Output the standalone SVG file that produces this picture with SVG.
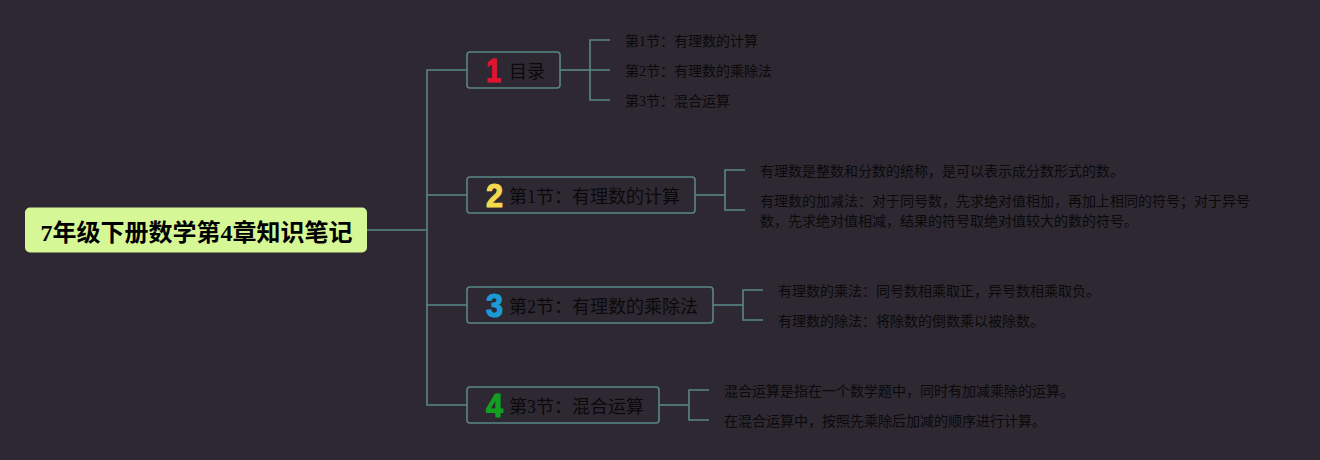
<svg xmlns="http://www.w3.org/2000/svg" width="1320" height="460" viewBox="0 0 1320 460">
<style>
text{font-family:"Liberation Serif","Noto Sans CJK SC",sans-serif;}
.bg{fill:#2d2832}
.c{fill:none;stroke:#5a8687;stroke-width:1.6}
.b{fill:#2d2832;stroke:#5a8687;stroke-width:1.6}
.t{font-size:18px;fill:#0a0a0a}
.l{font-size:14px;fill:#0a0a0a}
.n{font-family:"Liberation Sans",sans-serif;font-size:34px;font-weight:700;stroke-width:1.2;stroke-linejoin:round}
</style>
<rect class="bg" width="1320" height="460"/>
<g id="connectors">
<path class="c" d="M367 230H427"/>
<path class="c" d="M467 70H427V405H467"/>
<path class="c" d="M427 195H467M427 305H467"/>
<path class="c" d="M560 70H590"/>
<path class="c" d="M610 40H590V100H610M590 70H610"/>
<path class="c" d="M695 195H725"/>
<path class="c" d="M745 170H725V210H745"/>
<path class="c" d="M713 305H743"/>
<path class="c" d="M763 290H743V320H763"/>
<path class="c" d="M659 405H689"/>
<path class="c" d="M709 390H689V420H709"/>
</g>
<g id="root">
<rect x="25" y="207.500" width="342" height="45" rx="5" fill="#d6f796"/>
<text x="40.500" y="240.500" font-size="24" font-weight="700" fill="#000">7年级下册数学第4章知识笔记</text>
</g>
<g id="n1">
<rect class="b" x="467" y="52" width="93" height="36" rx="3"/>
<text class="n" x="486" y="82" fill="#e0142f" stroke="#e0142f" textLength="15" lengthAdjust="spacingAndGlyphs">1</text>
<text class="t" x="509" y="78">目录</text>
</g>
<g id="n2">
<rect class="b" x="467" y="177" width="228" height="36" rx="3"/>
<text class="n" x="486" y="207" fill="#f5d94e" stroke="#f5d94e" textLength="17" lengthAdjust="spacingAndGlyphs">2</text>
<text class="t" x="509" y="203">第1节：有理数的计算</text>
</g>
<g id="n3">
<rect class="b" x="467" y="287" width="246" height="36" rx="3"/>
<text class="n" x="486" y="317" fill="#1b9ad6" stroke="#1b9ad6" textLength="17" lengthAdjust="spacingAndGlyphs">3</text>
<text class="t" x="509" y="313">第2节：有理数的乘除法</text>
</g>
<g id="n4">
<rect class="b" x="467" y="387" width="192" height="36" rx="3"/>
<text class="n" x="486" y="417" fill="#11a020" stroke="#11a020" textLength="17" lengthAdjust="spacingAndGlyphs">4</text>
<text class="t" x="509" y="413">第3节：混合运算</text>
</g>
<g id="leaf1-1"><text class="l" x="625" y="46">第1节：有理数的计算</text></g>
<g id="leaf1-2"><text class="l" x="625" y="76">第2节：有理数的乘除法</text></g>
<g id="leaf1-3"><text class="l" x="625" y="106">第3节：混合运算</text></g>
<g id="leaf2-1"><text class="l" x="760" y="176">有理数是整数和分数的统称，是可以表示成分数形式的数。</text></g>
<g id="leaf2-2"><text class="l" x="760" y="206">有理数的加减法：对于同号数，先求绝对值相加，再加上相同的符号；对于异号</text><text class="l" x="760" y="226">数，先求绝对值相减，结果的符号取绝对值较大的数的符号。</text></g>
<g id="leaf3-1"><text class="l" x="778" y="296">有理数的乘法：同号数相乘取正，异号数相乘取负。</text></g>
<g id="leaf3-2"><text class="l" x="778" y="326">有理数的除法：将除数的倒数乘以被除数。</text></g>
<g id="leaf4-1"><text class="l" x="724" y="396">混合运算是指在一个数学题中，同时有加减乘除的运算。</text></g>
<g id="leaf4-2"><text class="l" x="724" y="426">在混合运算中，按照先乘除后加减的顺序进行计算。</text></g>
</svg>
